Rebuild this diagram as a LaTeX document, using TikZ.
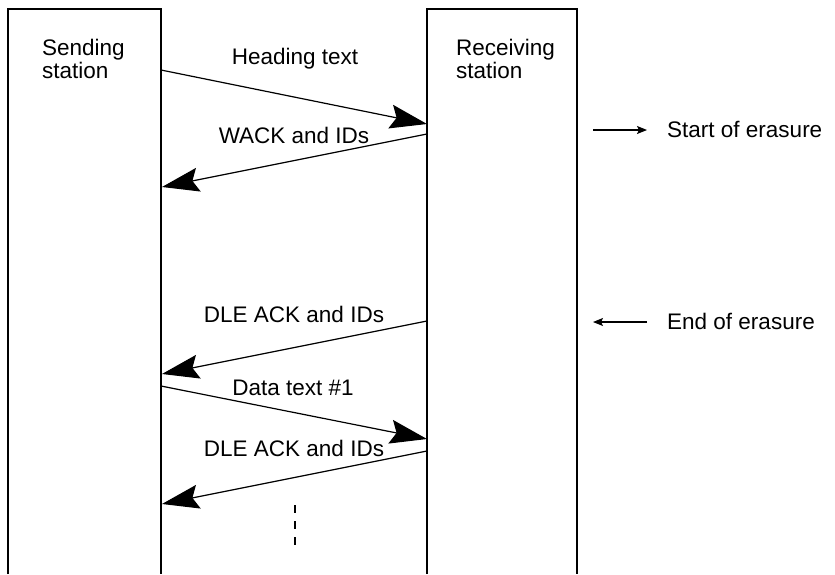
\documentclass[tikz,border=0pt]{standalone}
\usepackage{fontspec}
\setmainfont{Liberation Sans}
\usetikzlibrary{arrows.meta}
\begin{document}
\begin{tikzpicture}[x=1pt,y=-1pt,
  lbl/.style={inner sep=0pt, font=\fontsize{22.5}{22.5}\selectfont},
  boxline/.style={line width=1.3pt},
  msg/.style={line width=1.2pt, -{Stealth[length=37pt,width=24pt,inset=6pt]}},
  note/.style={line width=1.1pt, -{Stealth[length=10pt,width=8pt,inset=2pt]}}]
\useasboundingbox (0,0) rectangle (835,574);
% station columns (open at the bottom)
\draw[boxline] (8,574) -- (8,9) -- (161,9) -- (161,574);
\draw[boxline] (427,574) -- (427,9) -- (577,9) -- (577,574);
\node[lbl, anchor=north west, align=left] (snd) at (42,39) {Sending\\station};
\node[lbl, anchor=north west, align=left] (rcv) at (456,39) {Receiving\\station};
% connector end points on the columns
\coordinate (a1) at (161,70);  \coordinate (b1) at (427,124);
\coordinate (a2) at (427,134); \coordinate (b2) at (162,187);
\coordinate (a3) at (427,321); \coordinate (b3) at (162,374);
\coordinate (a4) at (161,386); \coordinate (b4) at (427,439);
\coordinate (a5) at (427,451); \coordinate (b5) at (162,504);
\draw[msg] (a1) -- (b1);
\draw[msg] (a2) -- (b2);
\draw[msg] (a3) -- (b3);
\draw[msg] (a4) -- (b4);
\draw[msg] (a5) -- (b5);
\node[lbl, anchor=base] (t1) at (295,64) {Heading text};
\node[lbl, anchor=base] (t2) at (294,143) {WACK and IDs};
\node[lbl, anchor=base] (t3) at (294,322) {DLE ACK and IDs};
\node[lbl, anchor=base] (t4) at (293,395) {Data text \#1};
\node[lbl, anchor=base] (t5) at (294,456) {DLE ACK and IDs};
% continuation
\coordinate (d1) at (295,505); \coordinate (d2) at (295,545);
\draw[line width=1.1pt, dash pattern=on 8pt off 8pt] (d1) -- (d2);
% erasure notes
\coordinate (e1) at (593,130); \coordinate (e2) at (647,130);
\coordinate (f1) at (647,322); \coordinate (f2) at (593,322);
\draw[note] (e1) -- (e2);
\draw[note] (f1) -- (f2);
\node[lbl, anchor=base west] (n1) at (667,137) {Start of erasure};
\node[lbl, anchor=base west] (n2) at (667,329) {End of erasure};
\end{tikzpicture}
\end{document}
